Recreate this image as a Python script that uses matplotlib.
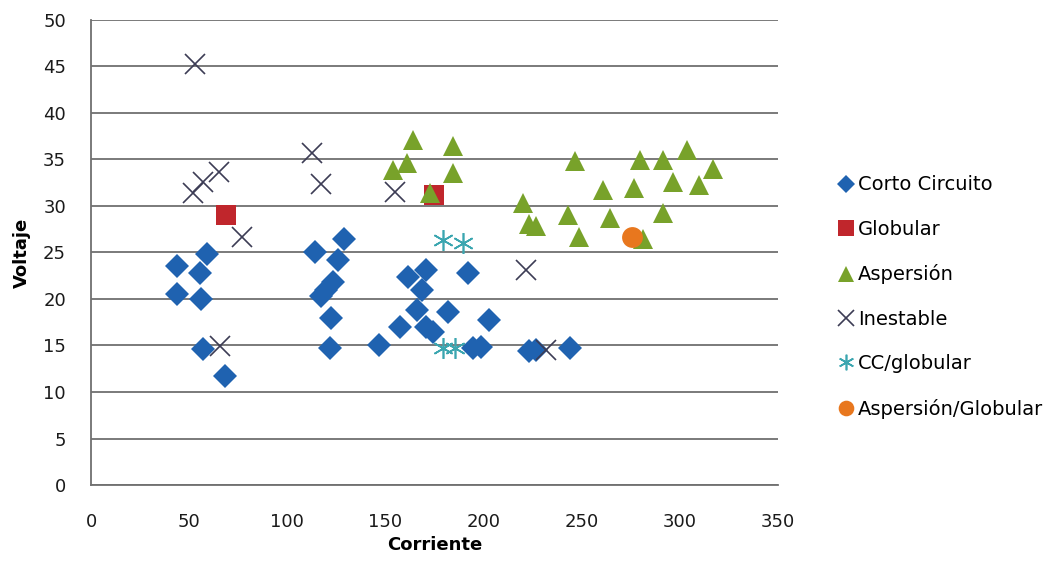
import matplotlib
matplotlib.use("Agg")
import matplotlib.pyplot as plt

# ----------------------------
# Data (Corriente, Voltaje)
# ----------------------------
cc_x = [44, 44, 55.5, 59, 56, 57, 68.5,
        114, 129, 126, 123.5, 120, 117.5, 122.5, 122,
        147, 161.5, 171, 168.5, 166, 182, 157.5, 171, 174.5,
        192, 203, 195, 199, 223.5, 227, 244]
cc_y = [23.5, 20.5, 22.8, 24.8, 20, 14.6, 11.7,
        25, 26.5, 24.2, 21.8, 21, 20.3, 18, 14.7,
        15, 22.4, 23.1, 21, 18.8, 18.6, 17, 17, 16.5,
        22.8, 17.7, 14.7, 14.8, 14.4, 14.5, 14.7]

glob_x = [69, 175]
glob_y = [29, 31.2]

asp_x = [164, 184.5, 154, 161, 184.5, 173,
         246.5, 280, 291.5, 304, 317, 296.5, 310, 261, 277,
         220, 223.5, 227, 243, 264.5, 291.5, 249, 281.5]
asp_y = [37.1, 36.4, 33.9, 34.6, 33.5, 31.4,
         34.8, 34.9, 34.9, 36, 34, 32.6, 32.3, 31.7, 31.9,
         30.3, 28.1, 27.8, 29, 28.7, 29.2, 26.7, 26.5]

ines_x = [53, 52, 57, 65, 112.5, 117.5, 77, 66, 155, 222, 232]
ines_y = [45.3, 31.4, 32.6, 33.7, 35.7, 32.4, 26.7, 14.9, 31.5, 23.1, 14.5]

ccg_x = [179.5, 189.5, 179.5, 185.5]
ccg_y = [26.3, 26, 14.7, 14.7]

aspg_x = [276]
aspg_y = [26.7]

# name, x, y, marker, colour, size, edge width (None = filled)
series = [
    ("Corto Circuito", cc_x, cc_y, "D", "#1F62B0", 12, None),
    ("Globular", glob_x, glob_y, "s", "#C0262C", 15, None),
    ("Aspersión", asp_x, asp_y, "^", "#78A22A", 15, None),
    ("Inestable", ines_x, ines_y, "x", "#3C3C55", 15, 1.2),
    ("CC/globular", ccg_x, ccg_y, (6, 2, 0), "#3BA6B0", 15, 1.2),
    ("Aspersión/Globular", aspg_x, aspg_y, "o", "#E8771E", 15, None),
]

plt.rcParams["font.family"] = ["DejaVu Sans"]

fig = plt.figure(figsize=(10.61, 5.66), dpi=100)
ax = fig.add_axes([0.0858, 0.1431, 0.647, 0.8216])

handles = []
for name, xs, ys, mk, col, ms, mew in series:
    h, = ax.plot(xs, ys, linestyle="none", marker=mk, color=col,
                 markersize=ms, markeredgewidth=(mew or 0), label=name, zorder=3)
    handles.append(h)

ax.set_xlim(0, 350)
ax.set_ylim(0, 50)
ax.set_xticks(range(0, 351, 50))
ax.set_yticks(range(0, 51, 5))
ax.yaxis.grid(True, color="#707070", linewidth=1.3)
ax.set_axisbelow(True)
for s in ["top", "right"]:
    ax.spines[s].set_visible(False)
for s in ["left", "bottom"]:
    ax.spines[s].set_color("#707070")
    ax.spines[s].set_linewidth(1.3)
ax.tick_params(axis="both", length=0, labelsize=13, colors="#1a1a1a")
ax.tick_params(axis="x", pad=20)
ax.tick_params(axis="y", pad=18)

ax.set_xlabel("Corriente", fontsize=13, fontweight="bold", labelpad=4)
ax.set_ylabel("Voltaje", fontsize=13, fontweight="bold", labelpad=9)

leg = fig.legend(handles=handles, loc="upper left", bbox_to_anchor=(0.774, 0.721),
                 frameon=False, fontsize=14, labelspacing=1.31,
                 handlelength=0.8, handletextpad=0.2, markerscale=0.75)

fig.savefig("out.png", dpi=100)
